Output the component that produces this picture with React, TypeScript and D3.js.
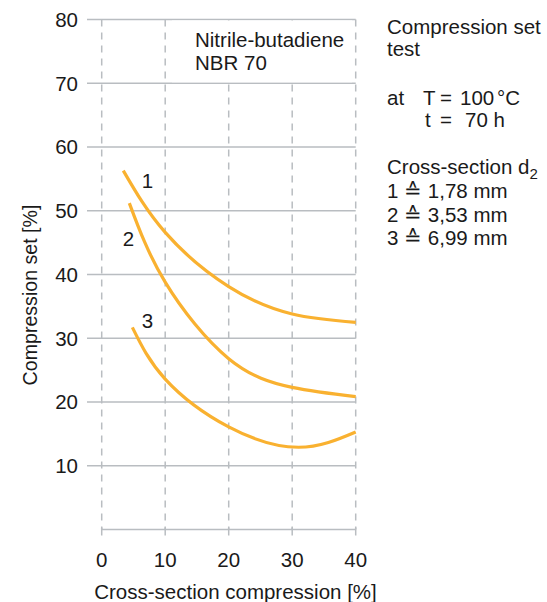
import React from "react";
import * as d3 from "d3";

const xTicks = [0, 10, 20, 30, 40];
const yTicks = [10, 20, 30, 40, 50, 60, 70, 80];

const curve1: [number, number][] = [
  [3.4, 56.3], [10, 46.6], [20, 38.1], [30, 33.8], [40, 32.5],
];
const curve2: [number, number][] = [
  [4.35, 51.2], [10, 38.8], [20, 26.8], [30, 22.3], [40, 20.85],
];
const curve3: [number, number][] = [
  [4.83, 31.7], [10, 23.6], [20, 16.1], [31, 12.9], [40, 15.3],
];
const curves = [
  { id: "1", data: curve1, label: [7.2, 53.6] },
  { id: "2", data: curve2, label: [4.2, 44.5] },
  { id: "3", data: curve3, label: [7.2, 31.6] },
];

const FONT = "'Liberation Sans', Arial, Helvetica, sans-serif";
const FS = 20.5;
const GRID = "#b9bdc1";
const ORANGE = "#f9b130";
const TXT = "#1a1a1a";

export default function App() {
  const x = d3.scaleLinear().domain([0, 40]).range([101.7, 355.7]);
  const y = d3.scaleLinear().domain([0, 80]).range([529.5, 19.5]);
  const line = d3
    .line<[number, number]>()
    .x((d) => x(d[0]))
    .y((d) => y(d[1]))
    .curve(d3.curveNatural);

  return (
    <svg
      width={547}
      height={602}
      style={{ position: "absolute", left: 0, top: 0, background: "#fff" }}
      fontFamily={FONT}
      fontSize={FS}
      fill={TXT}
    >
      {/* horizontal grid */}
      {yTicks.map((t) => (
        <line key={"h" + t} x1={87} x2={x(40)} y1={y(t)} y2={y(t)} stroke={GRID} strokeWidth={1.5} />
      ))}
      {/* vertical dashed grid */}
      {xTicks.map((t) => (
        <line
          key={"v" + t}
          x1={x(t)}
          x2={x(t)}
          y1={y(80)}
          y2={y(0)}
          stroke={GRID}
          strokeWidth={1.5}
          strokeDasharray="7,6"
        />
      ))}
      {/* bottom axis */}
      <line x1={x(0)} x2={x(40)} y1={y(0)} y2={y(0)} stroke={GRID} strokeWidth={1.5} />
      {xTicks.map((t) => (
        <line key={"t" + t} x1={x(t)} x2={x(t)} y1={y(0) - 2} y2={y(0) + 6} stroke={GRID} strokeWidth={1.5} />
      ))}
      {/* white box behind material label */}
      <rect x={172} y={y(80) + 1} width={180} height={y(70) - y(80) - 2} fill="#fff" />
      <text x={195} y={46.7}>Nitrile-butadiene</text>
      <text x={195} y={70}>NBR 70</text>

      {/* y tick labels */}
      {yTicks.map((t) => (
        <text key={"yl" + t} x={78} y={y(t) + 7.3} textAnchor="end">
          {t}
        </text>
      ))}
      {/* x tick labels */}
      {xTicks.map((t) => (
        <text key={"xl" + t} x={x(t)} y={567} textAnchor="middle">
          {t}
        </text>
      ))}
      <text x={235.5} y={599} textAnchor="middle">Cross-section compression [%]</text>
      <text transform="translate(37,295) rotate(-90)" textAnchor="middle" fontSize={19.6}>
        Compression set [%]
      </text>

      {/* curves */}
      {curves.map((c) => (
        <path key={"c" + c.id} d={line(c.data) || ""} fill="none" stroke={ORANGE} strokeWidth={3.2} strokeLinecap="butt" />
      ))}
      {curves.map((c) => (
        <text key={"cl" + c.id} x={x(c.label[0])} y={y(c.label[1])} textAnchor="middle">
          {c.id}
        </text>
      ))}

      {/* right annotation */}
      <text x={387} y={33.5}>Compression set</text>
      <text x={387} y={55.5}>test</text>
      <text x={387} y={105}>at</text>
      <text x={423} y={105}>T</text>
      <text x={440} y={105}>=</text>
      <text x={460} y={105}>100</text>
      <text x={497} y={105}>°C</text>
      <text x={425} y={127}>t</text>
      <text x={440} y={127}>=</text>
      <text x={465} y={127}>70 h</text>
      <text x={387} y={174}>
        Cross-section d<tspan dy={5} fontSize={15}>2</tspan>
      </text>
      <text x={387} y={198}>1 ≙ 1,78 mm</text>
      <text x={387} y={221.5}>2 ≙ 3,53 mm</text>
      <text x={387} y={245}>3 ≙ 6,99 mm</text>
    </svg>
  );
}
